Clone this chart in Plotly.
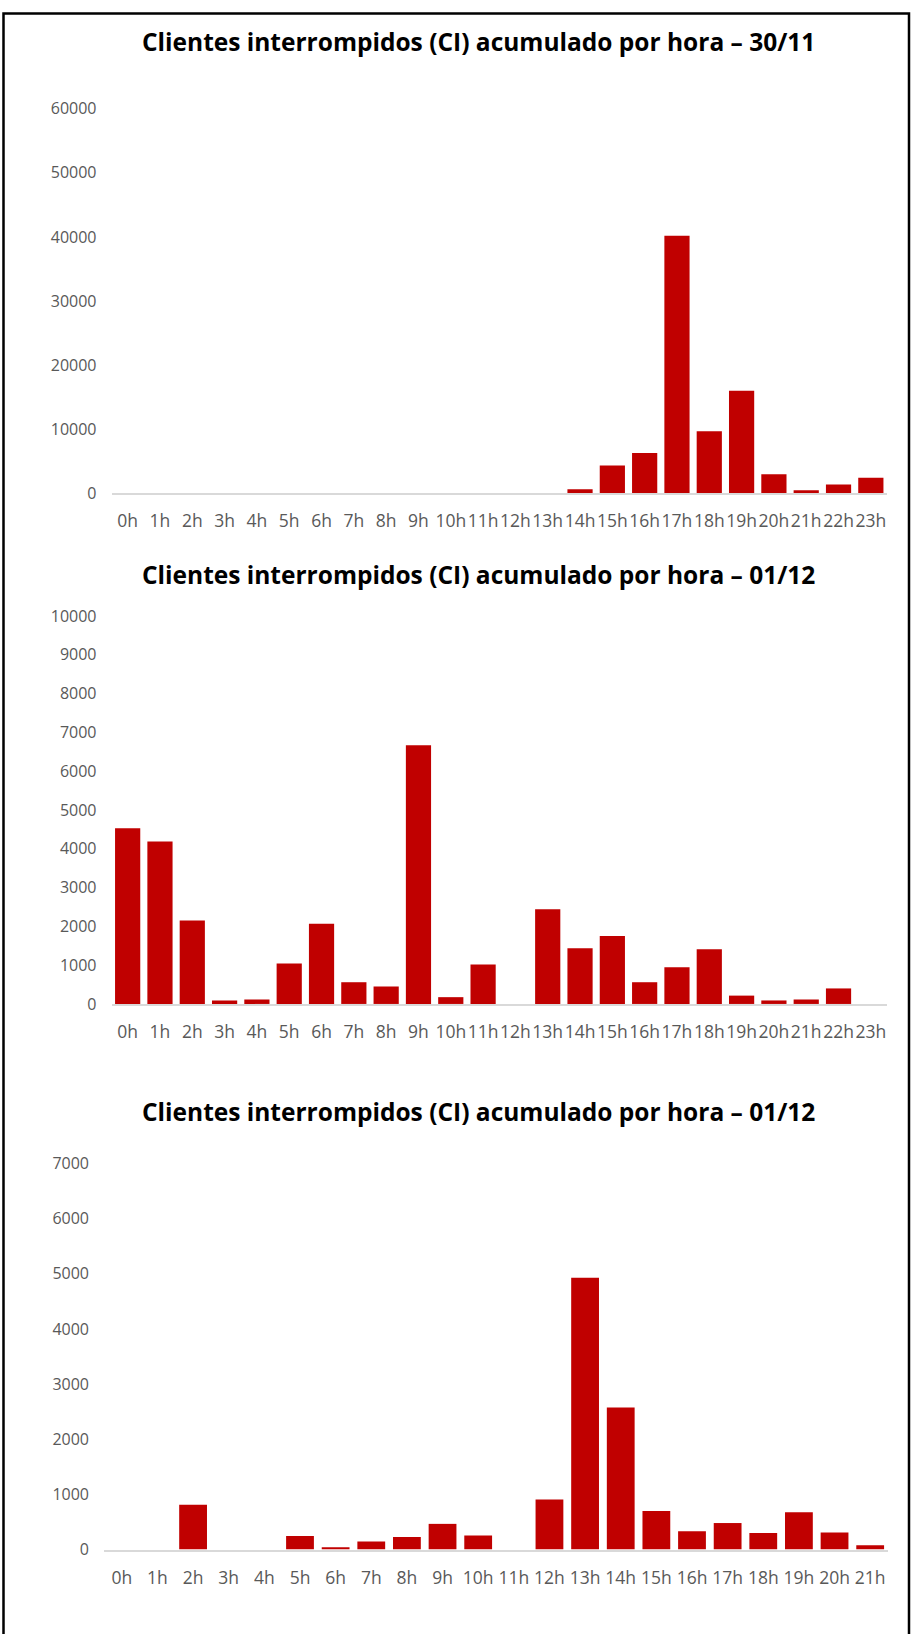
import plotly.graph_objects as go

# ---------------- data ----------------
hours_24 = ["0h", "1h", "2h", "3h", "4h", "5h", "6h", "7h", "8h", "9h", "10h", "11h",
            "12h", "13h", "14h", "15h", "16h", "17h", "18h", "19h", "20h", "21h", "22h", "23h"]
hours_22 = ["0h", "1h", "2h", "3h", "4h", "5h", "6h", "7h", "8h", "9h", "10h", "11h",
            "12h", "13h", "14h", "15h", "16h", "17h", "18h", "19h", "20h", "21h"]

ci_30_11 = [0, 0, 0, 0, 0, 0, 0, 0, 0, 0, 0, 0,
            0, 0, 660, 4350, 6300, 40200, 9700, 16000, 3000, 500, 1400, 2450]
ci_01_12_a = [4530, 4190, 2150, 90, 115, 1040, 2070, 560, 450, 6670, 175, 1015,
              0, 2440, 1435, 1750, 560, 945, 1410, 215, 90, 115, 400, 0]
ci_01_12_b = [0, 0, 810, 0, 0, 245, 40, 145, 225, 465, 255, 0,
              905, 4930, 2575, 700, 330, 480, 300, 675, 310, 75]

titles = ["Clientes interrompidos (CI) acumulado por hora – 30/11",
          "Clientes interrompidos (CI) acumulado por hora – 01/12",
          "Clientes interrompidos (CI) acumulado por hora – 01/12"]
y_ranges = [[0, 60000], [0, 10000], [0, 7000]]
y_dticks = [10000, 1000, 1000]

# ---------------- layout geometry ----------------
W, H = 912, 1634
BAR = "#C00000"
FONT = "Open Sans"
TICK_COLOR = "#595959"

x_domains = [[111.5 / W, 887 / W], [111.5 / W, 887 / W], [104 / W, 888 / W]]
y_domains = [[(H - 489) / H, (H - 99) / H],
             [(H - 1006.5) / H, (H - 613.3) / H],
             [(H - 1559.5) / H, (H - 1168.3) / H]]
title_y = [1 - 31 / H, 1 - 571 / H, 1 - 1116 / H]

fig = go.Figure()
series = [(hours_24, ci_30_11), (hours_24, ci_01_12_a), (hours_22, ci_01_12_b)]

for i, (cats, vals) in enumerate(series):
    sfx = "" if i == 0 else str(i + 1)
    fig.add_trace(go.Bar(
        x=cats, y=vals,
        xaxis="x" + sfx, yaxis="y" + sfx,
        marker=dict(color=BAR, line=dict(width=0)),
        showlegend=False,
    ))
    fig.layout["xaxis" + sfx] = dict(
        domain=x_domains[i], anchor="y" + sfx,
        type="category", categoryorder="array", categoryarray=cats,
        showline=True, linecolor="#D9D9D9", linewidth=2,
        showgrid=False, zeroline=False, ticks="",
        tickfont=dict(family=FONT, size=17.5, color=TICK_COLOR),
        ticklabelstandoff=11, tickangle=0, fixedrange=True,
    )
    fig.layout["yaxis" + sfx] = dict(
        domain=y_domains[i], anchor="x" + sfx,
        range=y_ranges[i], dtick=y_dticks[i], tick0=0,
        showline=False, showgrid=False, zeroline=False, ticks="",
        tickfont=dict(family=FONT, size=16, color=TICK_COLOR),
        ticklabelstandoff=14, tickformat="d", fixedrange=True,
    )
    fig.add_annotation(
        text="<b>" + titles[i] + "</b>",
        xref="paper", yref="paper", x=0.525, y=title_y[i],
        xanchor="center", yanchor="middle", showarrow=False,
        font=dict(family=FONT, size=24.5, color="#000000"),
    )

# outer frame
fig.add_shape(type="rect", xref="paper", yref="paper",
              x0=3.5 / W, x1=909 / W, y0=-0.02, y1=1 - 2.5 / H,
              line=dict(color="#000000", width=2.5), fillcolor="rgba(0,0,0,0)",
              layer="above")

fig.update_layout(
    width=W, height=H,
    margin=dict(l=0, r=0, t=0, b=0),
    paper_bgcolor="#FFFFFF", plot_bgcolor="#FFFFFF",
    bargap=0.22,
    font=dict(family=FONT),
)

fig.write_html(
    "out.html",
    config={"displayModeBar": False, "staticPlot": True},
    post_script=(
        "document.body.style.margin='0';document.body.style.padding='0';"
        "var d=document.getElementById('{plot_id}');"
        "d.style.position='fixed';d.style.top='0';d.style.left='0';"
    ),
)
